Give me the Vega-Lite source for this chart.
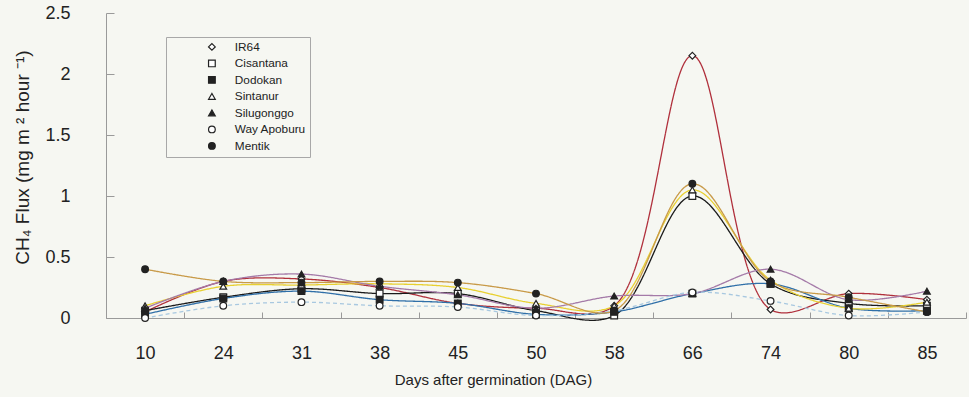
{
  "$schema": "https://vega.github.io/schema/vega-lite/v6.json",
  "width": 860,
  "height": 305,
  "autosize": {"type": "none"},
  "padding": {"left": 106, "top": 13, "right": 3, "bottom": 79},
  "background": "#f6f7f2",
  "config": {
    "view": {"stroke": null},
    "font": "Liberation Sans",
    "axis": {"grid": false, "domainColor": "#9a9a9a", "tickColor": "#9a9a9a", "labelColor": "#222", "titleColor": "#222", "labelFont": "Liberation Sans", "titleFont": "Liberation Sans", "titleFontWeight": "normal"},
    "legend": {
      "strokeColor": "#a8a8a8", "fillColor": "#f6f7f2", "padding": 4,
      "symbolOffset": 36, "labelOffset": 17, "rowPadding": 3.5,
      "labelFontSize": 11.8, "labelColor": "#222", "labelFont": "Liberation Sans",
      "symbolStrokeWidth": 1.2, "symbolSize": 45
    }
  },
  "data": {
    "values": [
      {"day": 10, "variety": "IR64", "flux": 0.05},
      {"day": 24, "variety": "IR64", "flux": 0.30},
      {"day": 31, "variety": "IR64", "flux": 0.32},
      {"day": 38, "variety": "IR64", "flux": 0.25},
      {"day": 45, "variety": "IR64", "flux": 0.12},
      {"day": 50, "variety": "IR64", "flux": 0.08},
      {"day": 58, "variety": "IR64", "flux": 0.10},
      {"day": 66, "variety": "IR64", "flux": 2.15},
      {"day": 74, "variety": "IR64", "flux": 0.07},
      {"day": 80, "variety": "IR64", "flux": 0.20},
      {"day": 85, "variety": "IR64", "flux": 0.15},
      {"day": 10, "variety": "Cisantana", "flux": 0.06},
      {"day": 24, "variety": "Cisantana", "flux": 0.17},
      {"day": 31, "variety": "Cisantana", "flux": 0.24},
      {"day": 38, "variety": "Cisantana", "flux": 0.20},
      {"day": 45, "variety": "Cisantana", "flux": 0.20},
      {"day": 50, "variety": "Cisantana", "flux": 0.06},
      {"day": 58, "variety": "Cisantana", "flux": 0.02},
      {"day": 66, "variety": "Cisantana", "flux": 1.00},
      {"day": 74, "variety": "Cisantana", "flux": 0.28},
      {"day": 80, "variety": "Cisantana", "flux": 0.12},
      {"day": 85, "variety": "Cisantana", "flux": 0.10},
      {"day": 10, "variety": "Dodokan", "flux": 0.03},
      {"day": 24, "variety": "Dodokan", "flux": 0.16},
      {"day": 31, "variety": "Dodokan", "flux": 0.22},
      {"day": 38, "variety": "Dodokan", "flux": 0.15},
      {"day": 45, "variety": "Dodokan", "flux": 0.12},
      {"day": 50, "variety": "Dodokan", "flux": 0.03},
      {"day": 58, "variety": "Dodokan", "flux": 0.05},
      {"day": 66, "variety": "Dodokan", "flux": 0.20},
      {"day": 74, "variety": "Dodokan", "flux": 0.28},
      {"day": 80, "variety": "Dodokan", "flux": 0.08},
      {"day": 85, "variety": "Dodokan", "flux": 0.06},
      {"day": 10, "variety": "Sintanur", "flux": 0.10},
      {"day": 24, "variety": "Sintanur", "flux": 0.26},
      {"day": 31, "variety": "Sintanur", "flux": 0.27},
      {"day": 38, "variety": "Sintanur", "flux": 0.28},
      {"day": 45, "variety": "Sintanur", "flux": 0.25},
      {"day": 50, "variety": "Sintanur", "flux": 0.12},
      {"day": 58, "variety": "Sintanur", "flux": 0.10},
      {"day": 66, "variety": "Sintanur", "flux": 1.05},
      {"day": 74, "variety": "Sintanur", "flux": 0.31},
      {"day": 80, "variety": "Sintanur", "flux": 0.08},
      {"day": 85, "variety": "Sintanur", "flux": 0.13},
      {"day": 10, "variety": "Silugonggo", "flux": 0.08},
      {"day": 24, "variety": "Silugonggo", "flux": 0.30},
      {"day": 31, "variety": "Silugonggo", "flux": 0.36},
      {"day": 38, "variety": "Silugonggo", "flux": 0.26},
      {"day": 45, "variety": "Silugonggo", "flux": 0.19},
      {"day": 50, "variety": "Silugonggo", "flux": 0.08},
      {"day": 58, "variety": "Silugonggo", "flux": 0.18},
      {"day": 66, "variety": "Silugonggo", "flux": 0.20},
      {"day": 74, "variety": "Silugonggo", "flux": 0.40},
      {"day": 80, "variety": "Silugonggo", "flux": 0.15},
      {"day": 85, "variety": "Silugonggo", "flux": 0.22},
      {"day": 10, "variety": "Way Apoburu", "flux": 0.00},
      {"day": 24, "variety": "Way Apoburu", "flux": 0.10},
      {"day": 31, "variety": "Way Apoburu", "flux": 0.13},
      {"day": 38, "variety": "Way Apoburu", "flux": 0.10},
      {"day": 45, "variety": "Way Apoburu", "flux": 0.09},
      {"day": 50, "variety": "Way Apoburu", "flux": 0.02},
      {"day": 58, "variety": "Way Apoburu", "flux": 0.06},
      {"day": 66, "variety": "Way Apoburu", "flux": 0.21},
      {"day": 74, "variety": "Way Apoburu", "flux": 0.14},
      {"day": 80, "variety": "Way Apoburu", "flux": 0.02},
      {"day": 85, "variety": "Way Apoburu", "flux": 0.05},
      {"day": 10, "variety": "Mentik", "flux": 0.40},
      {"day": 24, "variety": "Mentik", "flux": 0.30},
      {"day": 31, "variety": "Mentik", "flux": 0.29},
      {"day": 38, "variety": "Mentik", "flux": 0.30},
      {"day": 45, "variety": "Mentik", "flux": 0.29},
      {"day": 50, "variety": "Mentik", "flux": 0.20},
      {"day": 58, "variety": "Mentik", "flux": 0.06},
      {"day": 66, "variety": "Mentik", "flux": 1.10},
      {"day": 74, "variety": "Mentik", "flux": 0.30},
      {"day": 80, "variety": "Mentik", "flux": 0.17},
      {"day": 85, "variety": "Mentik", "flux": 0.05}
    ]
  },
  "encoding": {
    "x": {
      "field": "day", "type": "ordinal",
      "scale": {"type": "band", "paddingInner": 0, "paddingOuter": 0},
      "axis": {
        "labelAngle": 0, "labelFontSize": 18, "labelPadding": 32, "tickBand": "extent", "tickSize": -6,
        "title": "Days after germination  (DAG)", "titleFontSize": 15,
        "titleX": 387, "titleY": 61, "titleBaseline": "middle"
      }
    },
    "y": {
      "field": "flux", "type": "quantitative",
      "scale": {"domain": [0, 2.5], "nice": false, "zero": true},
      "axis": {
        "values": [0, 0.5, 1, 1.5, 2, 2.5], "labelExpr": "datum.value + ''",
        "labelFontSize": 18, "labelPadding": 44, "tickSize": -8,
        "title": "CH₄ Flux (mg m ² hour ⁻¹)", "titleFontSize": 19,
        "titleX": -84, "titleY": 144, "titleBaseline": "middle", "titleAngle": 270
      }
    }
  },
  "layer": [
    {
      "mark": {"type": "line", "interpolate": "catmull-rom", "strokeWidth": 1.3},
      "encoding": {
        "detail": {"field": "variety"},
        "color": {
          "field": "variety", "type": "nominal", "legend": null,
          "scale": {
            "range": ["#1a1a1a", "#2f6fa8", "#b0303c", "#c89a48", "#a47aa8", "#e8d030", "#a8c8e0"]
          }
        },
        "strokeDash": {
          "field": "variety", "type": "nominal", "legend": null,
          "scale": {
            "range": [[1, 0], [1, 0], [1, 0], [1, 0], [1, 0], [1, 0], [4, 3]]
          }
        }
      }
    },
    {
      "mark": {"type": "point", "strokeWidth": 1.2, "size": 45, "opacity": 1},
      "encoding": {
        "shape": {
          "field": "variety", "type": "nominal",
          "scale": {
            "domain": ["IR64", "Cisantana", "Dodokan", "Sintanur", "Silugonggo", "Way Apoburu", "Mentik"],
            "range": ["diamond", "square", "square", "triangle-up", "triangle-up", "circle", "circle"]
          },
          "legend": {
            "title": null, "orient": "none", "legendX": 60, "legendY": 24,
            "labelExpr": "datum.label + '\u00a0\u00a0\u00a0\u00a0\u00a0\u00a0\u00a0\u00a0\u00a0\u00a0\u00a0\u00a0\u00a0\u00a0\u00a0'"
          }
        },
        "fill": {
          "field": "variety", "type": "nominal",
          "scale": {
            "domain": ["IR64", "Cisantana", "Dodokan", "Sintanur", "Silugonggo", "Way Apoburu", "Mentik"],
            "range": ["#ffffff", "#ffffff", "#222222", "#ffffff", "#222222", "#ffffff", "#222222"]
          },
          "legend": {
            "title": null, "orient": "none", "legendX": 60, "legendY": 24,
            "labelExpr": "datum.label + '\u00a0\u00a0\u00a0\u00a0\u00a0\u00a0\u00a0\u00a0\u00a0\u00a0\u00a0\u00a0\u00a0\u00a0\u00a0'"
          }
        },
        "stroke": {
          "field": "variety", "type": "nominal",
          "scale": {
            "domain": ["IR64", "Cisantana", "Dodokan", "Sintanur", "Silugonggo", "Way Apoburu", "Mentik"],
            "range": ["#222222", "#222222", "#222222", "#222222", "#222222", "#222222", "#222222"]
          },
          "legend": {
            "title": null, "orient": "none", "legendX": 60, "legendY": 24,
            "labelExpr": "datum.label + '\u00a0\u00a0\u00a0\u00a0\u00a0\u00a0\u00a0\u00a0\u00a0\u00a0\u00a0\u00a0\u00a0\u00a0\u00a0'"
          }
        }
      }
    }
  ]
}
